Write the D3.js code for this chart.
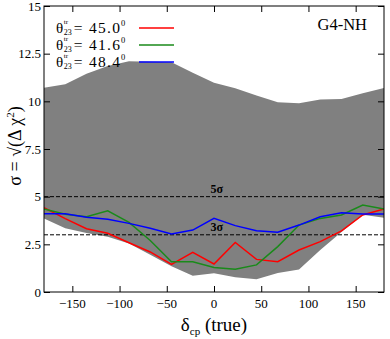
<!DOCTYPE html>
<html>
<head>
<meta charset="utf-8">
<script src="https://cdn.jsdelivr.net/npm/d3@7"></script>
<style>
  body { margin: 0; background: #fff; }
</style>
</head>
<body>
<svg id="chart" width="390" height="339"></svg>
<script>
// values
var deltaCP = [-180, -157.5, -135, -112.5, -90, -67.5, -45, -22.5, 0,
               22.5, 45, 67.5, 90, 112.5, 135, 157.5, 180];

var sigma450 = [4.42, 3.85, 3.32, 3.08, 2.58, 2.1, 1.45, 2.08, 1.47,
                2.6, 1.71, 1.59, 2.2, 2.64, 3.21, 4.04, 4.35];
var sigma416 = [4.35, 4.08, 3.95, 4.26, 3.65, 2.7, 1.59, 1.59, 1.29,
                1.19, 1.42, 2.38, 3.51, 3.86, 4.04, 4.56, 4.35];
var sigma484 = [4.1, 4.1, 3.92, 3.81, 3.6, 3.34, 3.04, 3.25, 3.86,
                3.48, 3.21, 3.13, 3.51, 3.95, 4.16, 4.09, 4.09];

// grey band (min / max over the other parameters)
var bandUpper = [10.71, 10.9, 11.45, 11.85, 12.1, 12.08, 12.05, 11.5, 10.97,
                 10.68, 10.3, 9.95, 9.9, 10.1, 10.12, 10.42, 10.7];
var bandLower = [3.85, 3.35, 3.1, 2.9, 2.55, 1.95, 1.35, 0.85, 0.98,
                 0.78, 0.67, 1.0, 1.18, 2.2, 3.15, 4.05, 3.9];

var xTicks = [-150, -100, -50, 0, 50, 100, 150];
var yTicks = [0, 2.5, 5, 7.5, 10, 12.5, 15];
var sigmaLevels = [5, 3];
var legendAngles = ["45.0", "41.6", "48.4"];
var lineColors = ["#ff0000", "#1a8a1a", "#0000ff"];

var margin = {top: 6, right: 6, bottom: 47, left: 44},
    width = 390 - margin.left - margin.right,
    height = 339 - margin.top - margin.bottom;

var serif = "'Liberation Serif', 'DejaVu Serif', 'Liberation Sans', serif";

var svg = d3.select("#chart").attr("font-family", serif);
var g = svg.append("g").attr("transform", "translate(" + margin.left + "," + margin.top + ")");

var x = d3.scaleLinear().domain([-180, 180]).range([0, width]);
var y = d3.scaleLinear().domain([0, 15]).range([height, 0]);

g.append("clipPath").attr("id", "clip")
  .append("rect").attr("width", width).attr("height", height);

var plot = g.append("g").attr("clip-path", "url(#clip)");

// band
var area = d3.area()
  .x(function(d, i) { return x(deltaCP[i]); })
  .y0(function(d, i) { return y(bandLower[i]); })
  .y1(function(d, i) { return y(bandUpper[i]); });

plot.append("path")
  .datum(deltaCP)
  .attr("d", area)
  .attr("fill", "#808080");

// 5 sigma and 3 sigma
plot.selectAll("line.level")
  .data(sigmaLevels)
  .enter()
  .append("line")
  .attr("class", "level")
  .attr("x1", 0).attr("x2", width)
  .attr("y1", function(d) { return y(d); })
  .attr("y2", function(d) { return y(d); })
  .attr("stroke", "#000")
  .attr("stroke-width", 1)
  .attr("stroke-dasharray", "4,2");

g.selectAll("text.level")
  .data(sigmaLevels)
  .enter()
  .append("text")
  .attr("class", "level")
  .attr("x", x(3))
  .attr("y", function(d) { return y(d) - 4; })
  .attr("text-anchor", "middle")
  .attr("font-family", serif)
  .attr("font-size", 12)
  .attr("font-weight", "bold")
  .text(function(d) { return d + "\u03c3"; });

// curves
var series = [sigma450, sigma416, sigma484];
var line = d3.line()
  .x(function(d, i) { return x(deltaCP[i]); })
  .y(function(d) { return y(d); });

plot.selectAll("path.curve")
  .data(series)
  .enter()
  .append("path")
  .attr("class", "curve")
  .attr("d", line)
  .attr("fill", "none")
  .attr("stroke", function(d, i) { return lineColors[i]; })
  .attr("stroke-width", 1.5);

// axes, ticks drawn inside on all four sides
function tickAxis(axisFn, scale, major, minor, transform) {
  var a = g.append("g").attr("transform", transform);
  a.call(axisFn(scale).tickValues(minor).tickSize(3).tickFormat(""));
  a.call(axisFn(scale).tickValues(major).tickSize(6).tickFormat(""));
  a.selectAll(".domain").remove();
  a.selectAll("line").attr("stroke", "#000");
  return a;
}

var xMinor = d3.range(-175, 180, 25);
var yMinor = d3.range(0, 15.01, 0.5);

tickAxis(d3.axisTop, x, xTicks, xMinor, "translate(0," + height + ")");
tickAxis(d3.axisBottom, x, xTicks, xMinor, "translate(0,0)");
tickAxis(d3.axisRight, y, yTicks, yMinor, "translate(0,0)");
tickAxis(d3.axisLeft, y, yTicks, yMinor, "translate(" + width + ",0)");

g.append("rect")
  .attr("width", width).attr("height", height)
  .attr("fill", "none").attr("stroke", "#000").attr("stroke-width", 1);

// tick labels
g.selectAll("text.xlab")
  .data(xTicks)
  .enter()
  .append("text")
  .attr("x", function(d) { return x(d); })
  .attr("y", height + 16)
  .attr("text-anchor", "middle")
  .attr("font-family", serif)
  .attr("font-size", 13)
  .text(function(d) { return d < 0 ? "\u2212" + Math.abs(d) : d; });

g.selectAll("text.ylab")
  .data(yTicks)
  .enter()
  .append("text")
  .attr("x", -3)
  .attr("y", function(d) { return y(d) + 4.5; })
  .attr("text-anchor", "end")
  .attr("font-family", serif)
  .attr("font-size", 13)
  .text(function(d) { return d; });

// axis titles
var xt = svg.append("text")
  .attr("x", margin.left + x(0))
  .attr("y", 331)
  .attr("text-anchor", "middle")
  .attr("font-family", serif)
  .attr("font-size", 19);
xt.append("tspan").text("\u03b4");
xt.append("tspan").attr("font-size", 11).attr("dy", 4).text("cp");
xt.append("tspan").attr("dy", -4).text(" (true)");

var yt = svg.append("text")
  .attr("transform", "translate(21,146) rotate(-90)")
  .attr("text-anchor", "middle")
  .attr("font-family", serif)
  .attr("font-size", 18);
yt.append("tspan").text("\u03c3 = \u221a(\u0394 \u03c7");
yt.append("tspan").attr("font-size", 11).attr("dy", -7).text("2");
yt.append("tspan").attr("dy", 7).text(")");

// label
svg.append("text")
  .attr("x", 367).attr("y", 29.5)
  .attr("text-anchor", "end")
  .attr("font-family", serif)
  .attr("font-size", 16.5)
  .text("G4-NH");

// legend, pieces placed one after another by measured width
var legend = svg.selectAll("g.legend")
  .data(legendAngles)
  .enter()
  .append("g")
  .attr("class", "legend")
  .attr("font-family", serif)
  .attr("transform", function(d, i) { return "translate(56," + (33 + i * 17) + ")"; });

legend.each(function(d, i) {
  var row = d3.select(this);
  var theta = row.append("text").attr("font-size", 15).text("\u03b8");
  var cx = theta.node().getComputedTextLength() + 0.5;
  var sup = row.append("text").attr("x", cx).attr("y", -9).attr("font-size", 7).text("tr");
  var sub = row.append("text").attr("x", cx).attr("y", 1.5).attr("font-size", 8).text("23");
  cx += Math.max(sup.node().getComputedTextLength(), sub.node().getComputedTextLength()) + 2;
  var eq = row.append("text").attr("x", cx).attr("font-size", 15.5)
    .attr("textLength", 120 - 56 - cx).attr("lengthAdjust", "spacing")
    .text("= " + d);
  cx = 120 - 56 + 1;
  row.append("text").attr("x", cx).attr("y", -7.5).attr("font-size", 8.5).text("0");

  row.append("line")
    .attr("x1", 83).attr("x2", 118)
    .attr("y1", -5).attr("y2", -5)
    .attr("stroke", lineColors[i])
    .attr("stroke-width", 1.5);
});
</script>
</body>
</html>
